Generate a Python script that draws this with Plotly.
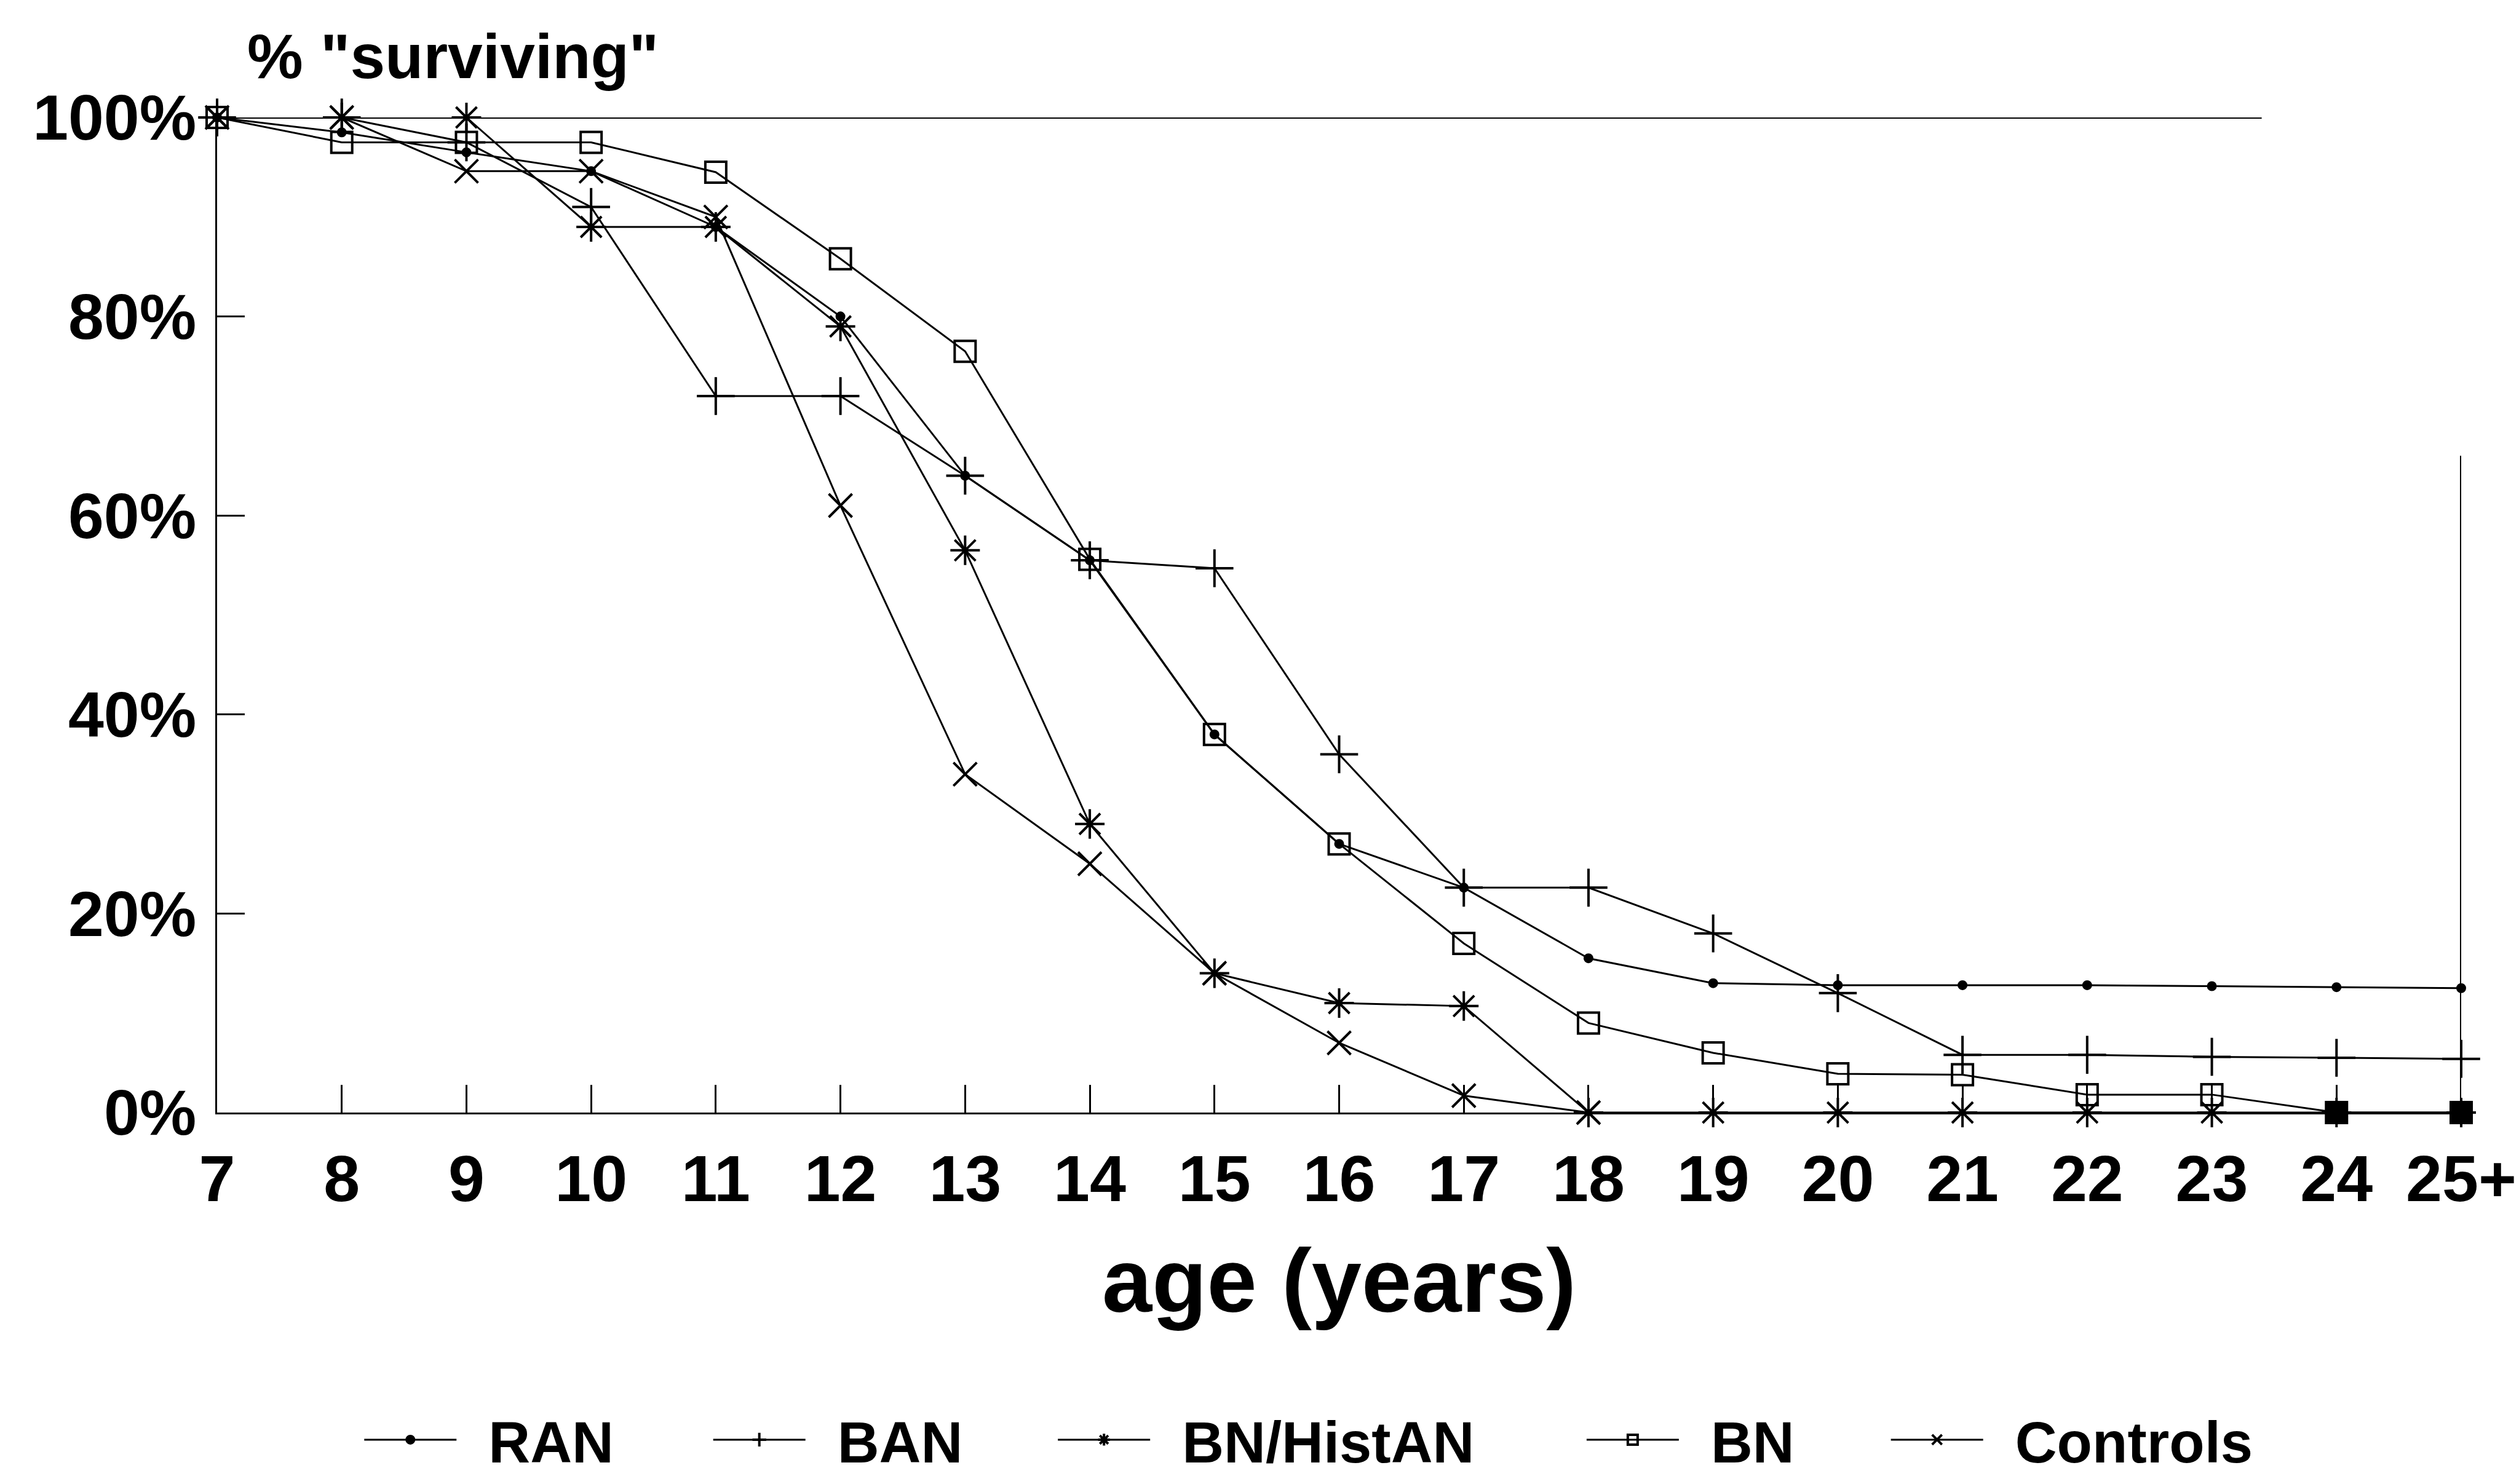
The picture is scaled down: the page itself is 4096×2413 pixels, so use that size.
import plotly.graph_objects as go

ages = list(range(7, 26))
age_labels = [str(a) for a in range(7, 25)] + ["25+"]

ran = [100, 98.5, 96.5, 94.6, 89, 80, 64, 55.5, 38, 27, 22.6, 15.5, 13, 12.8, 12.8, 12.8, 12.7, 12.6, 12.5]
ban = [100, 100, 97.5, 91, 72, 72, 64, 55.5, 54.7, 36, 22.6, 22.6, 18, 12.0, 5.8, 5.8, 5.6, 5.5, 5.4]
bn_hist = [100, 100, 100, 89, 89, 79, 56.5, 29, 14, 11, 10.7, 0, 0, 0, 0, 0, 0, 0, 0]
bn = [100, 97.5, 97.5, 97.5, 94.5, 85.8, 76.5, 55.6, 38, 27, 17, 9, 6, 3.9, 3.8, 1.8, 1.8, 0, 0]
controls = [100, 100, 94.6, 94.6, 90, 61, 34, 25, 14, 7, 1.7, 0, None, None, None, None, None, None, None]

y_ticks = [0, 20, 40, 60, 80, 100]
y_labels = ["0%", "20%", "40%", "60%", "80%", "100%"]

FONT = "Liberation Sans, Arial, Helvetica, sans-serif"
BLACK = "#000000"

# the last two BN points are printed as filled squares (overlapping symbols)
bn_symbols = ["square-open" if v > 0 else "square" for v in bn]

series = [
    ("RAN", ran, "circle", 12, "legend"),
    ("BAN", ban, "cross-thin", 44, "legend2"),
    ("BN/HistAN", bn_hist, "asterisk", 40, "legend3"),
    ("BN", bn, bn_symbols, 34, "legend4"),
    ("Controls", controls, "x-thin", 38, "legend5"),
]
legend_x = [0.0642, 0.2197, 0.3733, 0.6089, 0.7445]

fig = go.Figure()
for name, vals, sym, size, lg in series:
    fig.add_trace(go.Scatter(
        x=ages, y=vals, name="\u2002" + name, mode="lines+markers",
        line=dict(color=BLACK, width=3),
        marker=dict(symbol=sym, size=size, color=BLACK,
                    line=dict(color=BLACK, width=4)),
        cliponaxis=False, connectgaps=False, legend=lg,
    ))

# partial frame lines printed on the original
fig.add_shape(type="line", xref="x", yref="y", x0=7, x1=23.4, y0=100, y1=100,
              line=dict(color=BLACK, width=4))
fig.add_shape(type="line", xref="x", yref="y", x0=25, x1=25, y0=0, y1=66,
              line=dict(color=BLACK, width=4))

def legend_cfg(x):
    return dict(orientation="h", x=x, xanchor="left", y=-0.329, yanchor="middle",
                font=dict(size=94, family=FONT, weight="bold"), itemwidth=150,
                bgcolor="rgba(0,0,0,0)", itemsizing="trace")

fig.update_layout(
    width=4096, height=2413,
    paper_bgcolor="white", plot_bgcolor="white",
    margin=dict(l=345, r=92, t=183, b=605),
    font=dict(family=FONT, color=BLACK, size=100, weight="bold"),
    showlegend=True,
    legend=legend_cfg(legend_x[0]),
    legend2=legend_cfg(legend_x[1]),
    legend3=legend_cfg(legend_x[2]),
    legend4=legend_cfg(legend_x[3]),
    legend5=legend_cfg(legend_x[4]),
    annotations=[
        dict(text="age (years)", xref="paper", yref="paper", x=0.5, y=-0.169,
             xanchor="center", yanchor="middle", showarrow=False,
             font=dict(size=146, family=FONT, weight="bold")),
        dict(text='% "surviving"', xref="paper", yref="paper", x=0.0128, y=1.061,
             xanchor="left", yanchor="middle", showarrow=False,
             font=dict(size=102, family=FONT, weight="bold")),
    ],
)
fig.update_xaxes(range=[7, 25], tickmode="array", tickvals=ages, ticktext=age_labels,
                 showline=True, linecolor=BLACK, linewidth=3, showgrid=False, zeroline=False,
                 ticks="inside", ticklen=45, tickwidth=3, tickcolor=BLACK,
                 tickfont=dict(size=106, family=FONT, weight="bold"), ticklabelstandoff=14)
fig.update_yaxes(range=[0, 100], tickmode="array", tickvals=y_ticks, ticktext=y_labels,
                 showline=True, linecolor=BLACK, linewidth=3, showgrid=False, zeroline=False,
                 ticks="inside", ticklen=45, tickwidth=3, tickcolor=BLACK,
                 tickfont=dict(size=104, family=FONT, weight="bold"), ticklabelstandoff=10)

fig.write_html("out.html")
